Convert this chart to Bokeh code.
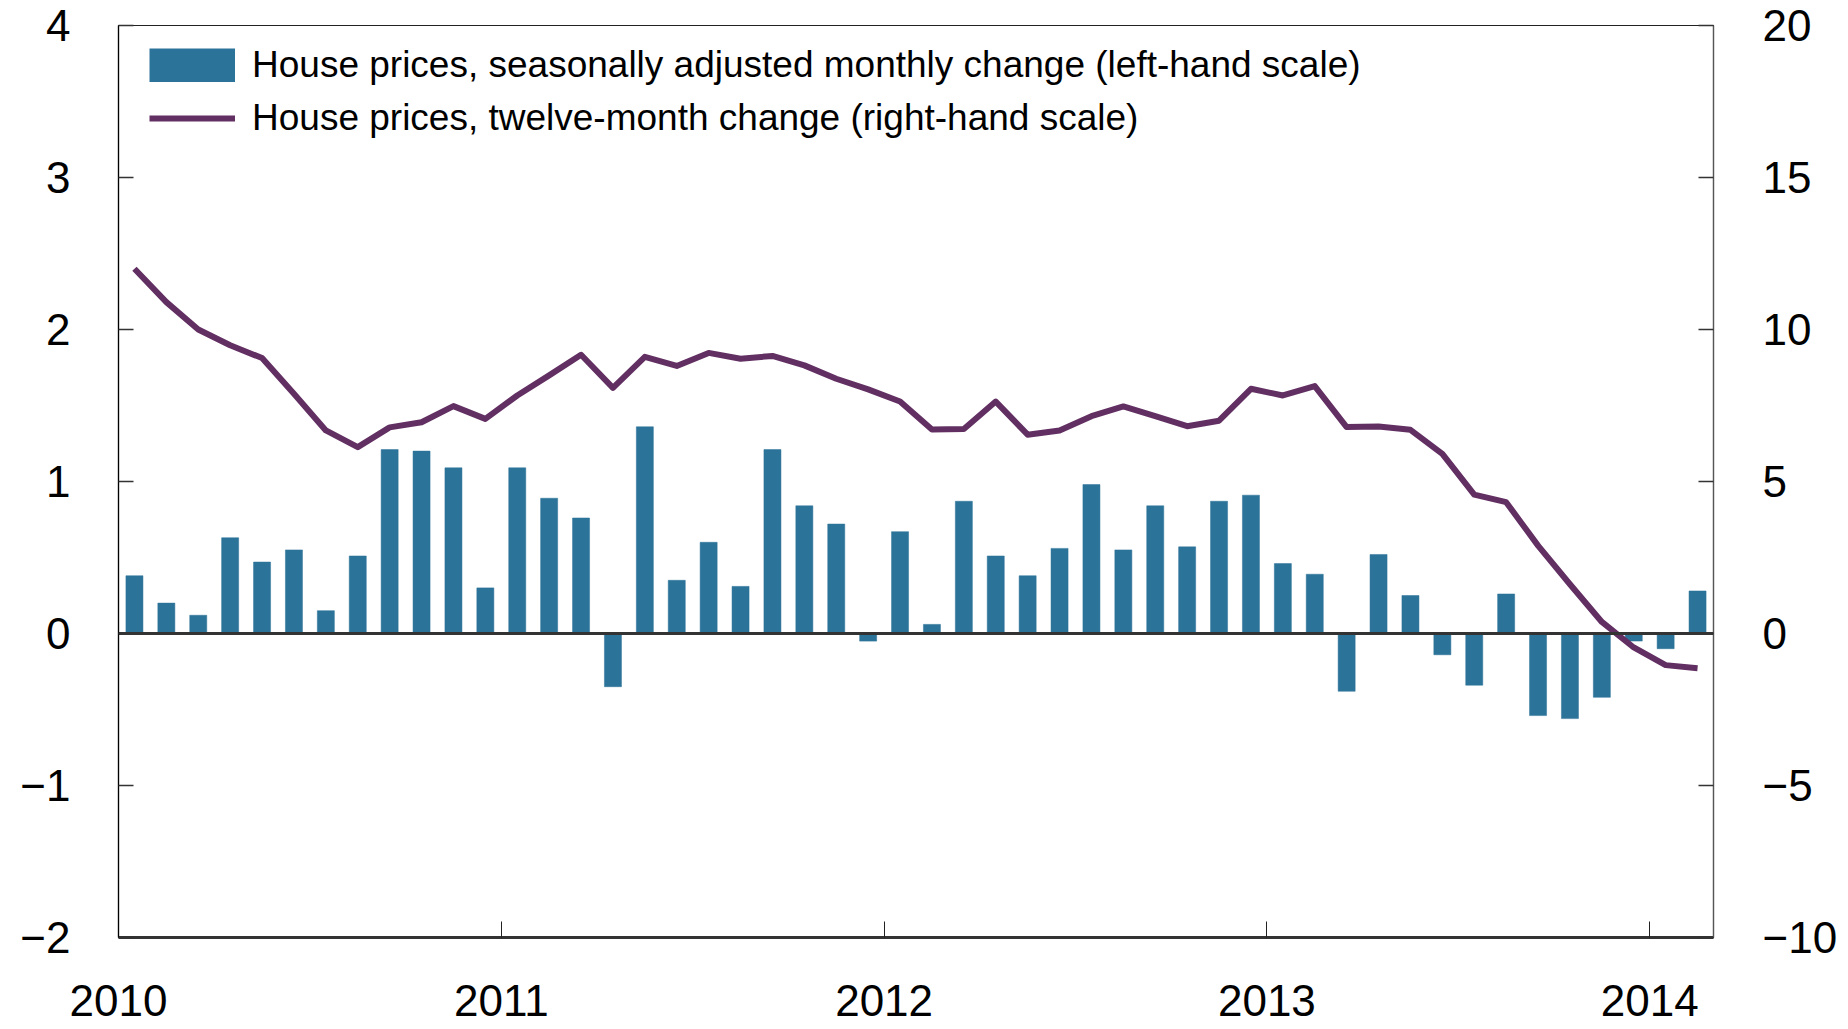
from bokeh.plotting import figure
from bokeh.models import (Range1d, LinearAxis, FixedTicker, Legend, LegendItem, Span,
                          CustomJSTickFormatter, ColumnDataSource)
from bokeh.embed import file_html
from bokeh.resources import INLINE

# ---- data (Jan 2010 - Feb 2014, monthly) ----
years = [2010] * 12 + [2011] * 12 + [2012] * 12 + [2013] * 12 + [2014] * 2
month_numbers = list(range(1, 13)) * 4 + [1, 2]

monthly_change = [0.38, 0.20, 0.12, 0.63, 0.47, 0.55, 0.15, 0.51, 1.21, 1.20, 1.09, 0.30,
                  1.09, 0.89, 0.76, -0.35, 1.36, 0.35, 0.60, 0.31, 1.21, 0.84, 0.72, -0.05,
                  0.67, 0.06, 0.87, 0.51, 0.38, 0.56, 0.98, 0.55, 0.84, 0.57, 0.87, 0.91,
                  0.46, 0.39, -0.38, 0.52, 0.25, -0.14, -0.34, 0.26, -0.54, -0.56, -0.42, -0.05,
                  -0.10, 0.28]

twelve_month_change = [12.0, 10.9, 10.0, 9.48, 9.06, 7.89, 6.68, 6.13, 6.78, 6.95, 7.48, 7.06,
                       7.83, 8.49, 9.17, 8.08, 9.10, 8.80, 9.23, 9.04, 9.13, 8.82, 8.38, 8.03,
                       7.63, 6.71, 6.73, 7.63, 6.54, 6.68, 7.15, 7.47, 7.15, 6.82, 7.00, 8.05,
                       7.83, 8.14, 6.79, 6.81, 6.70, 5.91, 4.57, 4.32, 2.89, 1.62, 0.38, -0.46,
                       -1.04, -1.14]

year_ticks = [2010, 2011, 2012, 2013, 2014]
left_ticks = [-2, -1, 0, 1, 2, 3, 4]
right_ticks = [-10, -5, 0, 5, 10, 15, 20]

label_bar = "House prices, seasonally adjusted monthly change (left-hand scale)"
label_line = "House prices, twelve-month change (right-hand scale)"

BAR_COLOR = "#2c7399"
LINE_COLOR = "#622f62"
FONT = "Liberation Sans"

# month midpoints as decimal years
xpos = [y + (m - 0.5) / 12 for y, m in zip(years, month_numbers)]
src = ColumnDataSource(dict(x=xpos, bar=monthly_change, line=twelve_month_change))

p = figure(width=1840, height=1029, output_backend="svg", toolbar_location=None,
           x_range=Range1d(2010, 2014 + 2 / 12), y_range=Range1d(-2, 4),
           min_border_left=118, min_border_right=125, min_border_top=25, min_border_bottom=92)
p.extra_y_ranges = {"right": Range1d(-10, 20)}

p.xgrid.visible = False
p.ygrid.visible = False
p.background_fill_color = "white"
p.border_fill_color = "white"
p.outline_line_color = "#222222"
p.outline_line_width = 1.2

bars = p.vbar(x="x", top="bar", bottom=0, width=0.0445, source=src,
              fill_color=BAR_COLOR, line_color=BAR_COLOR, line_width=0.5)
zero = Span(location=0, dimension="width", line_color="#333333", line_width=3)
p.add_layout(zero)
line = p.line(x="x", y="line", source=src, y_range_name="right",
              line_color=LINE_COLOR, line_width=6, line_join="round")

# legend swatch for the bars (a filled block as wide as the line swatch); draws nothing in the plot
swatch_src = ColumnDataSource(dict(x=[2012.0], y=[float("nan")]))
bar_swatch = p.line(x="x", y="y", source=swatch_src,
                    line_color=BAR_COLOR, line_width=34, line_cap="butt")

minus_fmt = CustomJSTickFormatter(code="return tick < 0 ? '\\u2212' + Math.abs(tick) : tick.toString();")

# bottom axis
xa = p.xaxis[0]
xa.ticker = FixedTicker(ticks=year_ticks)
xa.formatter = CustomJSTickFormatter(code="return tick.toFixed(0);")
xa.minor_tick_line_color = None
xa.major_tick_in = 16
xa.major_tick_out = 0
xa.major_tick_line_color = "#222222"
xa.major_tick_line_width = 1
xa.axis_line_color = "#333333"
xa.axis_line_width = 3
xa.major_label_standoff = 47
xa.major_label_text_font = FONT
xa.major_label_text_font_size = "44px"
xa.major_label_text_color = "black"

# left axis
ya = p.yaxis[0]
ya.ticker = FixedTicker(ticks=left_ticks)
ya.formatter = minus_fmt
ya.minor_tick_line_color = None
ya.major_tick_in = 15
ya.major_tick_out = 0
ya.major_tick_line_color = "#333333"
ya.major_tick_line_width = 1.5
ya.axis_line_color = "black"
ya.axis_line_width = 1.2
ya.major_label_standoff = 48
ya.major_label_text_font = FONT
ya.major_label_text_font_size = "44px"
ya.major_label_text_color = "black"

# right axis
ra = LinearAxis(y_range_name="right", ticker=FixedTicker(ticks=right_ticks), formatter=minus_fmt)
ra.minor_tick_line_color = None
ra.major_tick_in = 15
ra.major_tick_out = 0
ra.major_tick_line_color = "#333333"
ra.major_tick_line_width = 1.5
ra.axis_line_color = "#555555"
ra.axis_line_width = 1.2
ra.major_label_standoff = 49
ra.major_label_text_font = FONT
ra.major_label_text_font_size = "44px"
ra.major_label_text_color = "black"
p.add_layout(ra, "right")

legend = Legend(items=[LegendItem(label=label_bar, renderers=[bar_swatch]),
                       LegendItem(label=label_line, renderers=[line])],
                location=(31, 798), margin=0, padding=0,
                glyph_width=86, glyph_height=34, label_standoff=17, spacing=11,
                border_line_color=None, background_fill_alpha=0,
                label_text_font=FONT, label_text_font_size="37px", label_text_color="black")
p.add_layout(legend)

open("out.html", "w").write(file_html(p, INLINE))
